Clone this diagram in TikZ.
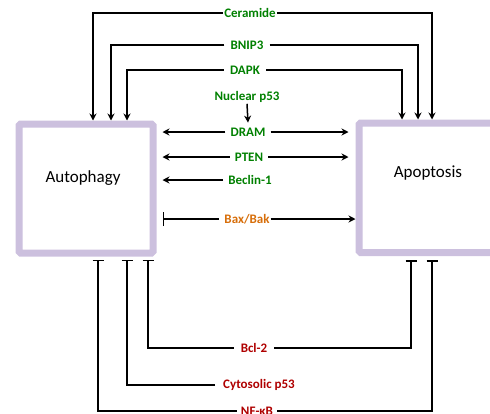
\documentclass[tikz,border=0pt]{standalone}
\usepackage{fontspec}
\setmainfont{Carlito}
\usetikzlibrary{arrows.meta}
\definecolor{lgreen}{RGB}{0,128,0}
\definecolor{lorange}{RGB}{215,110,10}
\definecolor{lred}{RGB}{175,0,0}
\definecolor{lav}{RGB}{204,192,222}
\tikzset{
  box/.style={draw=lav, line width=7pt, fill=white, rounded corners=1.5pt, inner sep=0pt},
  boxtext/.style={font=\fontsize{17}{20}\selectfont, inner sep=0pt},
  lab/.style={font=\fontsize{13}{15}\selectfont\bfseries, inner sep=5pt},
  glab/.style={lab, text=lgreen},
  olab/.style={lab, text=lorange},
  rlab/.style={lab, text=lred},
  conn/.style={line width=1.5pt, black},
  arr/.style={conn, -{Stealth[length=7pt,width=7pt]}},
  darr/.style={conn, {Stealth[length=7pt,width=7pt]}-{Stealth[length=7pt,width=7pt]}},
  inh/.style={conn, -{Bar[width=11pt]}},
}
\begin{document}
\begin{tikzpicture}[x=1pt,y=-1pt]
\useasboundingbox (0,0) rectangle (490,413);
% boxes
\node[box, minimum width=134pt, minimum height=129pt] (auto) at (86,188.5) {};
\node[boxtext] (autotxt) at (83,178) {Autophagy};
\node[box, minimum width=138pt, minimum height=129.5pt] (apop) at (428,187.75) {};
\node[boxtext] (apoptxt) at (428,173) {Apoptosis};
% top labels
\node[glab, inner sep=1pt] (cer) at (250,13) {Ceramide};
\node[glab, inner sep=6pt] (bnip) at (247,45) {BNIP3};
\node[glab, inner sep=6pt] (dapk) at (245,70) {DAPK};
\node[glab, inner sep=1pt] (np53) at (247,97) {Nuclear p53};
\node[glab] (dram) at (248,132) {DRAM};
\node[glab] (pten) at (249,157) {PTEN};
\node[glab] (becl) at (250,180) {Beclin-1};
\node[olab, inner sep=1pt] (bax) at (247,219) {Bax/Bak};
% bottom labels
\node[rlab, inner sep=7pt] (bcl) at (254,348) {Bcl-2};
\node[rlab, inner sep=8pt] (cyt) at (259,385) {Cytosolic p53};
\node[rlab, inner sep=4pt] (nfkb) at (257,411) {NF-κB};
% top connectors
\draw[arr] (cer.west) -| ([xshift=7pt]auto.north);
\draw[arr] (cer.east) -| ([xshift=4pt]apop.north);
\draw[arr] (bnip.west) -| ([xshift=25pt]auto.north);
\draw[arr] (bnip.east) -| ([xshift=-10pt]apop.north);
\draw[arr] (dapk.west) -| ([xshift=41pt]auto.north);
\draw[arr] (dapk.east) -| ([xshift=-26pt]apop.north);
\draw[arr] (np53.south) -- (dram.north);
% middle connectors
\draw[arr, shorten >=6pt] (dram.west) -- (dram.west -| auto.east);
\draw[arr, shorten >=7pt] (dram.east) -- (dram.east -| apop.west);
\draw[arr, shorten >=6pt] (pten.west) -- (pten.west -| auto.east);
\draw[arr, shorten >=7pt] (pten.east) -- (pten.east -| apop.west);
\draw[arr, shorten >=6pt] (becl.west) -- (becl.west -| auto.east);
\draw[conn, {Bar[width=14pt]}-, shorten <=6pt] (bax.west -| auto.east) -- ([xshift=-4pt]bax.west);
\draw[arr] (bax.east) -- (bax.east -| apop.west);
% bottom connectors
\draw[inh, shorten >=3pt] (bcl.west) -| ([xshift=62pt]auto.south);
\draw[inh, shorten >=4pt] (bcl.east) -| ([xshift=-17pt]apop.south);
\draw[inh, shorten >=3pt] (cyt.west) -| ([xshift=41pt]auto.south);
\draw[inh, shorten >=3pt] (nfkb.west) -| ([xshift=12pt]auto.south);
\draw[inh, shorten >=4pt] (nfkb.east) -| ([xshift=4pt]apop.south);
\end{tikzpicture}
\end{document}
